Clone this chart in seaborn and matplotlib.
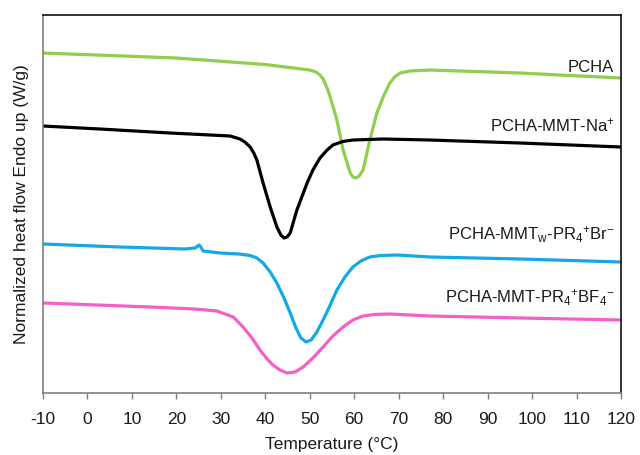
import numpy as np
import pandas as pd
import matplotlib
matplotlib.use("Agg")
import matplotlib.pyplot as plt
import seaborn as sns

# DSC heating traces: temperature (°C) and normalized heat flow (arbitrary offset, W/g)
t_pcha = [-10.0, 20.0, 40.0, 50.0, 51.4, 52.3, 53.0, 53.9, 54.6, 56.1, 57.5, 59.1,
          59.7, 60.4, 61.1, 62.0, 63.5, 65.1, 66.5, 68.0, 69.1, 70.3, 72.5, 77.0,
          97.3, 120.0]
hf_pcha = [3.45, 3.40, 3.335, 3.28, 3.26, 3.23, 3.19, 3.10, 3.01, 2.78, 2.48, 2.25,
           2.21, 2.20, 2.22, 2.28, 2.58, 2.85, 3.01, 3.15, 3.21, 3.25, 3.27, 3.28,
           3.25, 3.20]

t_na = [-10.0, 2.8, 18.6, 32.1, 34.3, 35.4, 36.6, 37.4, 38.1, 39.5, 41.1, 42.6,
        43.5, 44.2, 44.9, 45.6, 47.1, 48.3, 49.4, 50.7, 52.3, 53.9, 55.2, 57.4,
        59.7, 66.5, 77.0, 97.3, 120.0]
hf_na = [2.72, 2.69, 2.65, 2.62, 2.59, 2.56, 2.51, 2.45, 2.38, 2.15, 1.91, 1.71,
         1.63, 1.60, 1.61, 1.65, 1.88, 2.02, 2.15, 2.28, 2.40, 2.48, 2.53, 2.565,
         2.58, 2.59, 2.58, 2.55, 2.51]

t_br = [-10.0, 7.3, 21.9, 24.2, 25.1, 25.5, 26.0, 29.8, 34.0, 36.6, 38.1, 39.5,
        41.1, 42.6, 44.2, 45.6, 46.9, 48.0, 49.2, 50.3, 51.6, 53.0, 54.6, 56.1,
        57.9, 59.7, 61.5, 63.5, 66.0, 69.6, 77.0, 97.3, 120.0]
hf_br = [1.54, 1.51, 1.49, 1.50, 1.53, 1.51, 1.47, 1.45, 1.44, 1.425, 1.40, 1.35,
         1.26, 1.15, 1.00, 0.85, 0.70, 0.60, 0.56, 0.58, 0.66, 0.78, 0.93, 1.08,
         1.21, 1.31, 1.37, 1.41, 1.425, 1.43, 1.41, 1.39, 1.36]

t_bf4 = [-10.0, 14.1, 24.0, 29.1, 32.8, 35.0, 37.0, 38.8, 40.4, 41.7, 43.3, 44.9,
         46.7, 48.5, 50.7, 53.0, 55.2, 57.5, 59.7, 62.0, 64.5, 68.0, 77.0, 97.3,
         120.0]
hf_bf4 = [0.95, 0.91, 0.89, 0.87, 0.81, 0.71, 0.60, 0.48, 0.39, 0.33, 0.28, 0.25,
          0.26, 0.31, 0.40, 0.51, 0.62, 0.71, 0.78, 0.82, 0.835, 0.84, 0.82, 0.80,
          0.78]

sample_names = ["PCHA", "PCHA-MMT-Na$^{+}$",
                "PCHA-MMT$_{w}$-PR$_{4}$$^{+}$Br$^{-}$",
                "PCHA-MMT-PR$_{4}$$^{+}$BF$_{4}$$^{-}$"]
sample_colors = ["#8fce4e", "#000000", "#14a9e6", "#f45fc8"]
label_y = [3.31, 2.73, 1.63, 1.00]

x_ticks = list(range(-10, 121, 10))

sns.set_style("white")
plt.rcParams["font.family"] = ["Liberation Sans", "DejaVu Sans"]
plt.rcParams["mathtext.fontset"] = "custom"
plt.rcParams["mathtext.rm"] = "Liberation Sans"
plt.rcParams["mathtext.it"] = "Liberation Sans:italic"
plt.rcParams["mathtext.default"] = "rm"

frames = []
for name, t, hf in zip(sample_names,
                       [t_pcha, t_na, t_br, t_bf4],
                       [hf_pcha, hf_na, hf_br, hf_bf4]):
    frames.append(pd.DataFrame({"T": t, "hf": hf, "sample": name}))
df = pd.concat(frames, ignore_index=True)

fig = plt.figure(figsize=(6.4, 4.55), dpi=100)
ax = fig.add_axes([0.0672, 0.1363, 0.9031, 0.8307])

sns.lineplot(data=df, x="T", y="hf", hue="sample", palette=sample_colors,
             hue_order=sample_names, sort=False, estimator=None,
             linewidth=2.3, legend=False, ax=ax)

for name, y, c in zip(sample_names, label_y, sample_colors):
    ax.text(118.5, y, name, ha="right", va="center", fontsize=12, color="#1a1a1a")

ax.set_xlim(-10, 120)
ax.set_ylim(0.05, 3.83)
ax.set_xticks(x_ticks)
ax.set_xticklabels([str(v) for v in x_ticks], fontsize=12.5, color="#1a1a1a")
ax.set_yticks([])
ax.set_xlabel("Temperature (°C)", fontsize=12.5, color="#1a1a1a", labelpad=7)
ax.set_ylabel("Normalized heat flow Endo up (W/g)", fontsize=12.5,
              color="#1a1a1a", labelpad=10)

for side in ["left", "bottom"]:
    ax.spines[side].set_color("#7f7f7f")
    ax.spines[side].set_linewidth(1.2)
for side in ["top", "right"]:
    ax.spines[side].set_color("#111111")
    ax.spines[side].set_linewidth(1.2)
ax.tick_params(axis="x", direction="out", length=4, width=1, color="#7f7f7f",
               bottom=True, pad=10)

fig.savefig("out.png", dpi=100)
